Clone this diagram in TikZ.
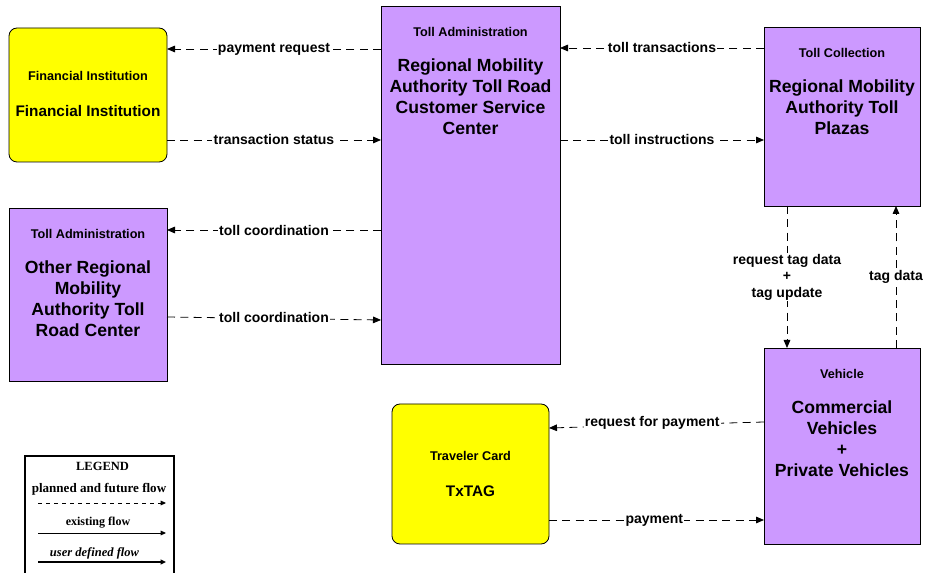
\documentclass[tikz,border=0pt]{standalone}
\usepackage{fontspec}
\setmainfont{Liberation Sans}
\newfontfamily\legendfont{Liberation Serif}
\usetikzlibrary{arrows.meta}
\definecolor{purp}{HTML}{CC99FF}
\definecolor{yel}{HTML}{FFFF00}
\tikzset{
  box/.style={draw=black, line width=0.6pt},
  pbox/.style={box, fill=purp},
  ybox/.style={box, fill=yel, rounded corners=6pt},
  ttl/.style={font=\fontsize{9.5}{11}\selectfont\bfseries, align=center},
  mtxt/.style={font=\fontsize{13.2}{15.8}\selectfont\bfseries, align=center},
  flow/.style={draw, line width=0.6pt, dash pattern=on 6pt off 4pt, -{Triangle[length=6pt,width=5pt]}},
  lbl/.style={fill=white, inner sep=1pt, font=\fontsize{10.5}{12.4}\selectfont\bfseries, align=center},
  lgd/.style={font=\legendfont\fontsize{9.4}{11}\selectfont\bfseries},
}
\begin{document}
\begin{tikzpicture}[x=0.75pt,y=-0.75pt]
\useasboundingbox (0,0) rectangle (926,573);
% boxes
\draw[ybox] (9,28) rectangle (167,162);
\draw[pbox] (9,208) rectangle (167,381);
\draw[pbox] (381,6) rectangle (560,364);
\draw[pbox] (764,27) rectangle (920,206);
\draw[pbox] (764,348) rectangle (920,544);
\draw[ybox] (392,404) rectangle (549,544);
% texts
\node[ttl] (fit) at (88,76) {Financial Institution};
\node[mtxt, font=\fontsize{11.5}{14}\selectfont\bfseries] (fim) at (88,111) {Financial Institution};
\node[ttl] (ot) at (88,234) {Toll Administration};
\node[mtxt] (om) at (88,298.5) {Other Regional\\Mobility\\Authority Toll\\Road Center};
\node[ttl] (ct) at (470.5,32) {Toll Administration};
\node[mtxt] (cm) at (470.5,96.5) {Regional Mobility\\Authority Toll Road\\Customer Service\\Center};
\node[ttl] (pt) at (842,53) {Toll Collection};
\node[mtxt] (pm) at (842,107) {Regional Mobility\\Authority Toll\\Plazas};
\node[ttl] (vt) at (842,374) {Vehicle};
\node[mtxt] (vm) at (842,438.5) {Commercial\\Vehicles\\+\\Private Vehicles};
\node[ttl] (tt) at (470.5,456) {Traveler Card};
\node[mtxt, font=\fontsize{11.5}{14}\selectfont\bfseries] (tm) at (470.5,491) {TxTAG};
% anchor coordinates
\coordinate (c1) at (381,49); \coordinate (f1) at (167,49);
\coordinate (f2) at (167,140); \coordinate (c2) at (381,140);
\coordinate (c3) at (381,230); \coordinate (o1) at (167,230);
\coordinate (o2) at (167,317); \coordinate (c4) at (381,320);
\coordinate (p1) at (764,48); \coordinate (c5) at (560,48);
\coordinate (c6) at (560,140); \coordinate (p2) at (764,140);
\coordinate (p3) at (787,206); \coordinate (v1) at (787,348);
\coordinate (v2) at (896,348); \coordinate (p4) at (896,206);
\coordinate (v3) at (764,422); \coordinate (t1) at (549,428);
\coordinate (t2) at (549,520); \coordinate (v4) at (764,520);
% flows
\draw[flow] (c1) -- node[lbl, pos=0.5] {payment request} (f1);
\draw[flow] (f2) -- node[lbl, pos=0.5] {transaction status} (c2);
\draw[flow] (c3) -- node[lbl, pos=0.5] {toll coordination} (o1);
\draw[flow] (o2) -- node[lbl, pos=0.5, yshift=1pt] {toll coordination} (c4);
\draw[flow] (p1) -- node[lbl, pos=0.5] {toll transactions} (c5);
\draw[flow] (c6) -- node[lbl, pos=0.5] {toll instructions} (p2);
\draw[flow] (p3) -- node[lbl, pos=0.5] {request tag data\\+\\tag update} (v1);
\draw[flow] (v2) -- node[lbl, pos=0.5] {tag data} (p4);
\draw[flow] (v3) -- node[lbl, pos=0.52, yshift=1.5pt] {request for payment} (t1);
\draw[flow] (t2) -- node[lbl, pos=0.49] {payment} (v4);
% legend
\draw[line width=0.8pt] (25,573) -- (25,456) -- (174,456) -- (174,573);
\node[lgd] (lg) at (102.5,466) {LEGEND};
\node[lgd, font=\legendfont\fontsize{9.8}{11}\selectfont\bfseries] (l1) at (99,489) {planned and future flow};
\coordinate (a1) at (38,503); \coordinate (b1) at (166,503);
\draw[line width=0.7pt, dash pattern=on 3pt off 3pt, -{Triangle[length=4pt,width=3.5pt]}] (a1) -- (b1);
\node[lgd, font=\legendfont\fontsize{9}{11}\selectfont\bfseries] (l2) at (98,523) {existing flow};
\coordinate (a2) at (38,533); \coordinate (b2) at (166,533);
\draw[line width=0.7pt, -{Triangle[length=4pt,width=3.5pt]}] (a2) -- (b2);
\node[lgd, font=\legendfont\fontsize{9.4}{11}\selectfont\bfseries\itshape] (l3) at (94.5,553) {user defined flow};
\coordinate (a3) at (38,562); \coordinate (b3) at (166,562);
\draw[line width=1pt, -{Triangle[length=4pt,width=3.5pt]}] (a3) -- (b3);
\end{tikzpicture}
\end{document}
